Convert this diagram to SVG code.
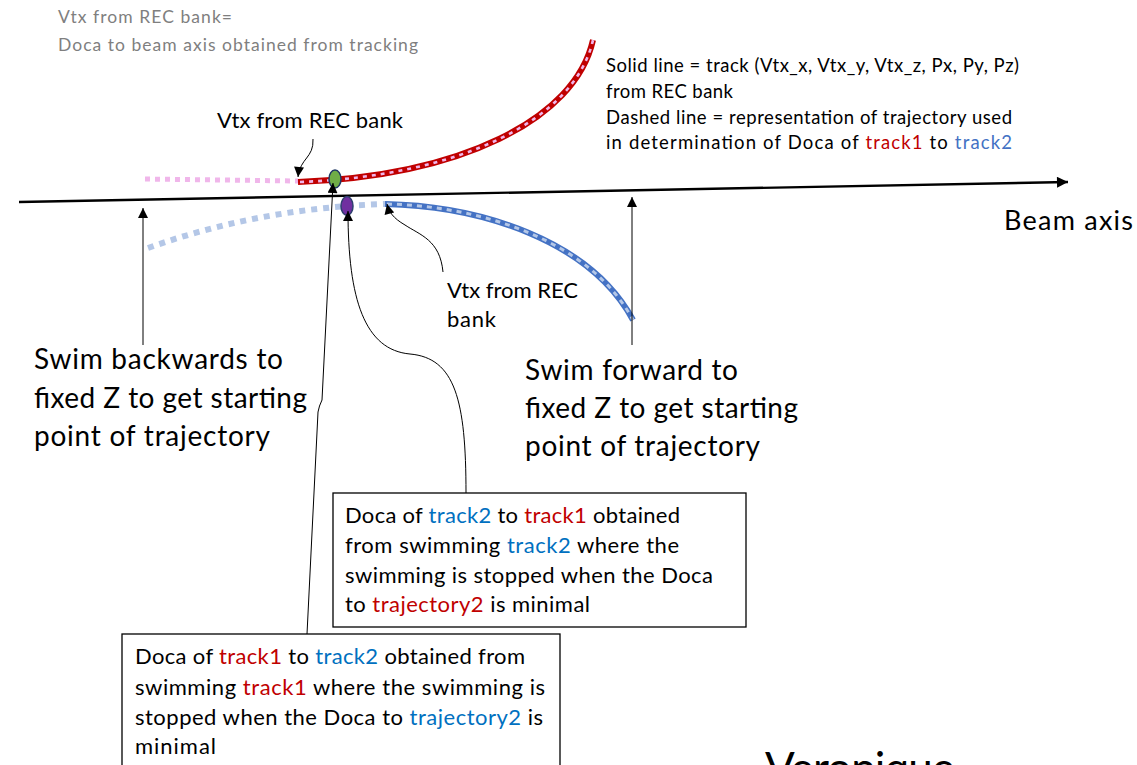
<svg xmlns="http://www.w3.org/2000/svg" width="1137" height="765" viewBox="0 0 1137 765">
  <style>
    text { font-family: Lato, "Liberation Sans", sans-serif; fill: #000; }
    .gray { fill: #7f7f7f; font-size: 17.5px; }
    .legend { font-size: 18.5px; }
    .lbl { font-size: 22px; }
    .big { font-size: 28px; }
    .box { fill: #fff; stroke: #000; stroke-width: 1.3; }
    .red { fill: #c00000; }
    .blue { fill: #0070c0; }
    .lblue { fill: #4472c4; }
    .thin { fill: none; stroke: #000; stroke-width: 1; }
  </style>
  <defs>
    <marker id="tip" viewBox="0 0 10 10" refX="10" refY="5" markerWidth="11" markerHeight="10" markerUnits="userSpaceOnUse" orient="auto">
      <path d="M0,0 L10,5 L0,10 Z" fill="#000"/>
    </marker>
    <marker id="axisTip" viewBox="0 0 10 10" refX="10" refY="5" markerWidth="13" markerHeight="11" markerUnits="userSpaceOnUse" orient="auto">
      <path d="M0,0 L10,5 L0,10 Z" fill="#000"/>
    </marker>
  </defs>

  <rect width="1137" height="765" fill="#fff"/>

  <!-- header note -->
  <g id="note-vtx">
    <text class="gray" x="58" y="23" textLength="174">Vtx from REC bank=</text>
    <text class="gray" x="58" y="51" textLength="360">Doca to beam axis obtained from tracking</text>
  </g>

  <!-- legend -->
  <g id="legend">
    <text class="legend" x="606" y="72" textLength="413">Solid line = track (Vtx_x, Vtx_y, Vtx_z, Px, Py, Pz)</text>
    <text class="legend" x="606" y="98" textLength="127">from REC bank</text>
    <text class="legend" x="606" y="124" textLength="406">Dashed line = representation of trajectory used</text>
    <text class="legend" x="606" y="149" textLength="406">in determination of Doca of <tspan class="red">track1</tspan> to <tspan class="lblue">track2</tspan></text>
  </g>

  <!-- beam axis -->
  <g id="beam-axis">
    <path d="M19,202 L1068,182" fill="none" stroke="#000" stroke-width="2.4" marker-end="url(#axisTip)"/>
    <text x="1004" y="230" font-size="27" textLength="129">Beam axis</text>
  </g>

  <!-- track 1 (red) with its trajectory -->
  <g id="track1">
    <path d="M145,179 L298,181" fill="none" stroke="#f0b6ea" stroke-width="5" stroke-dasharray="5 5"/>
    <path d="M298,182 C460,176 575,120 593,40" fill="none" stroke="#c00000" stroke-width="6"/>
    <path d="M300,182 C460,176 575,120 593,40" fill="none" stroke="#f0b6ea" stroke-width="2.6" stroke-dasharray="4 5"/>
    <ellipse cx="335" cy="179" rx="6" ry="9" fill="#70ad47" stroke="#203864" stroke-width="1.5"/>
  </g>

  <!-- track 2 (blue) with its trajectory -->
  <g id="track2">
    <path d="M148,248 Q260,208 385,204" fill="none" stroke="#b4c7e7" stroke-width="6" stroke-dasharray="6 6"/>
    <path d="M385,204 C480,206 590,240 633,320" fill="none" stroke="#4472c4" stroke-width="6"/>
    <path d="M387,204 C480,206 590,240 633,320" fill="none" stroke="#b4c7e7" stroke-width="3" stroke-dasharray="5 5"/>
    <ellipse cx="347" cy="206" rx="6" ry="9.5" fill="#7030a0" stroke="#2f3f6f" stroke-width="1.5"/>
  </g>

  <!-- labels -->
  <g id="label-vtx1">
    <text class="lbl" x="217" y="128" textLength="186">Vtx from REC bank</text>
  </g>
  <g id="label-vtx2">
    <text class="lbl" x="447" y="298" textLength="131">Vtx from REC</text>
    <text class="lbl" x="447" y="327" textLength="49">bank</text>
  </g>
  <g id="label-backward">
    <text class="big" x="34" y="369" textLength="249">Swim backwards to</text>
    <text class="big" x="34" y="408" textLength="273">fixed Z to get starting</text>
    <text class="big" x="34" y="446" textLength="236">point of trajectory</text>
  </g>
  <g id="label-forward">
    <text class="big" x="525" y="380" textLength="213">Swim forward to</text>
    <text class="big" x="525" y="418" textLength="273">fixed Z to get starting</text>
    <text class="big" x="525" y="456" textLength="235">point of trajectory</text>
  </g>

  <!-- explanation boxes -->
  <g id="box-track2">
    <rect class="box" x="333" y="493" width="413" height="134"/>
    <text class="lbl" x="345" y="523" textLength="335">Doca of <tspan class="blue">track2</tspan> to <tspan class="red">track1</tspan> obtained</text>
    <text class="lbl" x="345" y="553" textLength="334">from swimming <tspan class="blue">track2</tspan> where the</text>
    <text class="lbl" x="345" y="583" textLength="368">swimming is stopped when the Doca</text>
    <text class="lbl" x="345" y="612" textLength="245">to <tspan class="red">trajectory2</tspan> is minimal</text>
  </g>
  <g id="box-track1">
    <rect class="box" x="122" y="634" width="438" height="140"/>
    <text class="lbl" x="135" y="664" textLength="390">Doca of <tspan class="red">track1</tspan> to <tspan class="blue">track2</tspan> obtained from</text>
    <text class="lbl" x="135" y="695" textLength="410">swimming <tspan class="red">track1</tspan> where the swimming is</text>
    <text class="lbl" x="135" y="725" textLength="408">stopped when the Doca to <tspan class="blue">trajectory2</tspan> is</text>
    <text class="lbl" x="135" y="754" textLength="81">minimal</text>
  </g>

  <g id="author">
    <text x="765" y="784" font-size="44" textLength="190">Veronique</text>
  </g>

  <!-- connectors -->
  <g id="connectors">
    <path class="thin" d="M313,139 C314,158 300,158 298,177" marker-end="url(#tip)"/>
    <path class="thin" d="M143,345 L143,208" marker-end="url(#tip)"/>
    <path class="thin" d="M632,345 L632,197" marker-end="url(#tip)"/>
    <path class="thin" d="M307,634 L318,412 Q319,406 322,400 L333,183" marker-end="url(#tip)"/>
    <path class="thin" d="M466,493 C466,400 455,358 410,354 C365,350 348,300 348,211" marker-end="url(#tip)"/>
    <path class="thin" d="M443,272 C440,240 420,235 405,225 C393,218 389,212 387,204" marker-end="url(#tip)"/>
  </g>
</svg>
